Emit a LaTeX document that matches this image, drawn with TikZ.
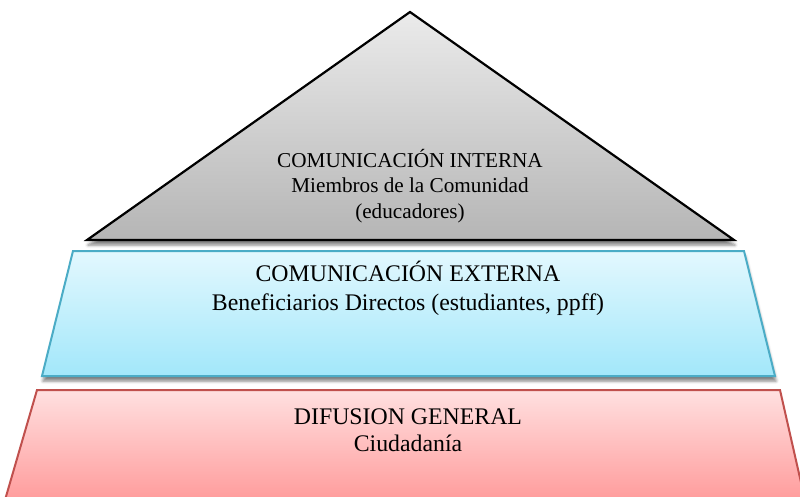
\documentclass[tikz,border=0pt]{standalone}
\usepackage{fontspec}
\setmainfont{Liberation Serif}
\usetikzlibrary{shadows.blur}
\definecolor{grayTop}{HTML}{EBEBEB}
\definecolor{grayBot}{HTML}{B5B5B5}
\definecolor{blueTop}{HTML}{E3F8FE}
\definecolor{blueBot}{HTML}{A2E7FA}
\definecolor{blueLine}{HTML}{4BACC6}
\definecolor{redTop}{HTML}{FFE0E0}
\definecolor{redBot}{HTML}{FF9C9C}
\definecolor{redLine}{HTML}{C0504D}
\tikzset{
  lbl/.style={align=center, text=black, inner sep=0pt},
  tri/.style={top color=grayTop, bottom color=grayBot, draw=black, line width=2.2pt, line join=miter,
     blur shadow={shadow xshift=1pt, shadow yshift=-5pt, shadow blur radius=3pt, shadow opacity=50}},
  midband/.style={top color=blueTop, bottom color=blueBot, draw=blueLine, line width=2pt,
     blur shadow={shadow xshift=1pt, shadow yshift=-5pt, shadow blur radius=3pt, shadow opacity=50}},
  lowband/.style={top color=redTop, bottom color=redBot, draw=redLine, line width=2pt}
}
\begin{document}
\begin{tikzpicture}[x=1pt,y=-1pt]
\useasboundingbox (0,0) rectangle (800,496);
\path[lowband] (37,390) -- (780,390) -- (805,500) -- (5,500) -- cycle;
\path[midband] (73,251) -- (744,251) -- (775,376) -- (42,376) -- cycle;
\path[tri] (410,12) -- (734,240) -- (87,240) -- cycle;
\node[lbl, font=\fontsize{21.2}{25.5}\selectfont] (interna) at (410,186) {COMUNICACIÓN INTERNA\\Miembros de la Comunidad\\(educadores)};
\node[lbl, font=\fontsize{23.8}{29}\selectfont] (externa) at (408,288) {COMUNICACIÓN EXTERNA\\Beneficiarios Directos (estudiantes, ppff)};
\node[lbl, font=\fontsize{23.8}{27}\selectfont] (difusion) at (408,430) {DIFUSION GENERAL\\Ciudadanía};
\end{tikzpicture}
\end{document}
